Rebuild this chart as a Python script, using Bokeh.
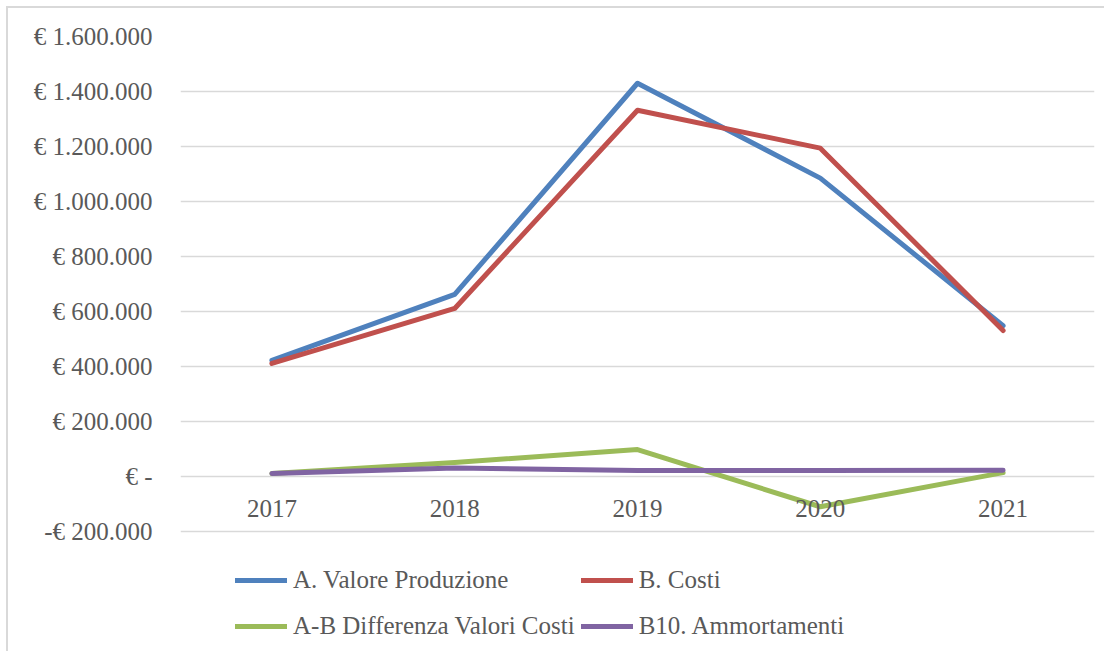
from bokeh.plotting import figure
from bokeh.models import FixedTicker, Legend, LegendItem, ColumnDataSource, Range1d
from bokeh.core.properties import value
from bokeh.embed import file_html
from bokeh.resources import INLINE

years = ["2017", "2018", "2019", "2020", "2021"]
valore_produzione = [422000, 662000, 1430000, 1085000, 548000]
costi = [411000, 611000, 1332000, 1194000, 531000]
differenza = [11000, 51000, 98000, -110000, 14000]
ammortamenti = [11000, 31000, 22000, 22000, 23000]

y_ticks = [-200000, 0, 200000, 400000, 600000, 800000, 1000000, 1200000, 1400000, 1600000]
y_tick_labels = ["-€ 200.000", "€ -", "€ 200.000", "€ 400.000", "€ 600.000", "€ 800.000",
                 "€ 1.000.000", "€ 1.200.000", "€ 1.400.000", "€ 1.600.000"]

series_names = ["A. Valore Produzione", "B. Costi", "A-B Differenza Valori Costi", "B10. Ammortamenti"]
series_values = [valore_produzione, costi, differenza, ammortamenti]
series_colors = ["#4F81BD", "#C0504D", "#9BBB59", "#8064A2"]

FONT = "Liberation Serif"
TXT = "#595959"

# frame extends below the lowest gridline to host the legend (55 px per 200.000)
PX_PER_STEP = 55
TOP, BOTTOM_PAD, H = 28, 4, 645
frame_h = H - TOP - BOTTOM_PAD
y_top = y_ticks[-1]
y_bottom = y_top - frame_h / PX_PER_STEP * (y_ticks[1] - y_ticks[0])

p = figure(width=1098, height=H, x_range=years, y_range=Range1d(y_bottom, y_top),
           output_backend="svg", toolbar_location=None, x_axis_location=None,
           min_border_left=172, min_border_right=12, min_border_top=TOP, min_border_bottom=BOTTOM_PAD)
p.styles = {"border-left": "2px solid #D9D9D9", "border-top": "2px solid #D9D9D9",
            "margin-left": "6px", "margin-top": "6px"}
p.outline_line_color = None
p.xgrid.visible = False
p.ygrid.grid_line_color = "#D9D9D9"
p.ygrid.grid_line_width = 1.5

ax = p.yaxis[0]
ax.ticker = FixedTicker(ticks=y_ticks)
ax.major_label_overrides = {t: l for t, l in zip(y_ticks, y_tick_labels)}
ax.axis_line_color = None
ax.major_tick_line_color = None
ax.minor_tick_line_color = None
ax.major_tick_out = 0
ax.major_label_standoff = 28
ax.major_label_text_font = FONT
ax.major_label_text_font_size = "25px"
ax.major_label_text_color = TXT

items = []
for name, vals, col in zip(series_names, series_values, series_colors):
    r = p.line(years, vals, line_color=col, line_width=5, line_cap="round", line_join="round")
    items.append(LegendItem(label=name, renderers=[r]))

lab_src = ColumnDataSource(dict(x=years, y=[0] * len(years)))
p.text(x="x", y="y", text="x", source=lab_src, text_align="center", text_baseline="middle",
       y_offset=32, text_font=value(FONT), text_font_size="25px", text_color=TXT)

legend = Legend(items=items, ncols=2, location=(55, 3), orientation="horizontal",
                glyph_width=52, glyph_height=40, spacing=6, label_standoff=6,
                padding=0, margin=0, border_line_color=None, background_fill_alpha=0,
                label_text_font=FONT, label_text_font_size="25px", label_text_color=TXT)
p.add_layout(legend, "center")

open("out.html", "w").write(file_html(p, INLINE))
